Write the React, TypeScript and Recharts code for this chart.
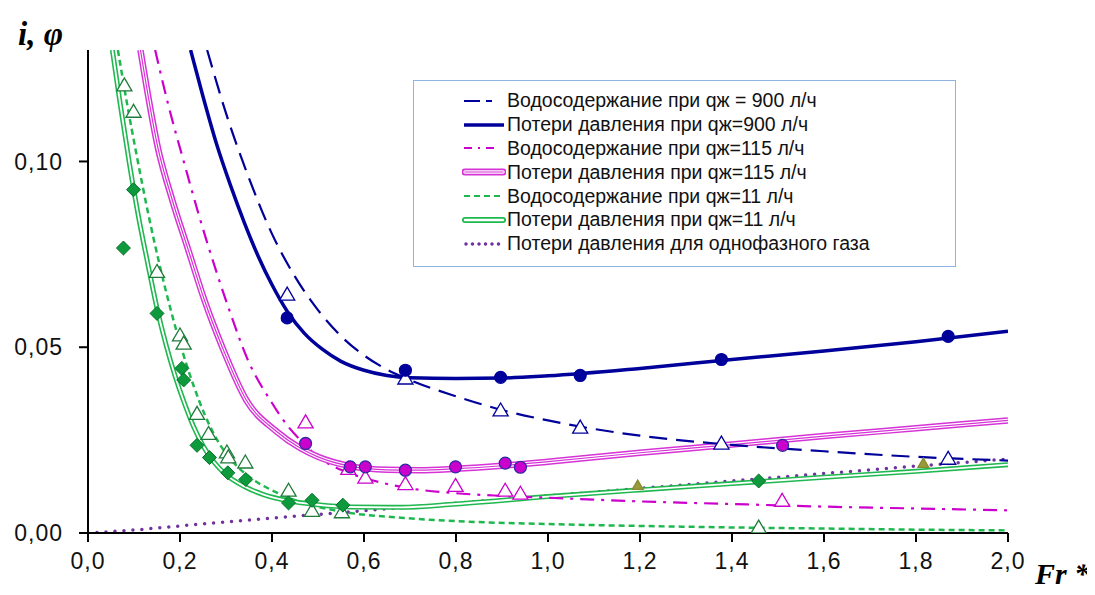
import React from 'react';
import { ComposedChart, Line, Scatter, XAxis, YAxis } from 'recharts';

type Pt = { x: number; y: number };

// curves
const waterCut900: Pt[] = [
  { x: 0.259, y: 0.13 }, { x: 0.3, y: 0.113 }, { x: 0.35, y: 0.0955 }, { x: 0.4, y: 0.0805 },
  { x: 0.45, y: 0.069 }, { x: 0.5, y: 0.06 }, { x: 0.55, y: 0.053 }, { x: 0.6, y: 0.0478 },
  { x: 0.65, y: 0.044 }, { x: 0.69, y: 0.0417 }, { x: 0.8, y: 0.0368 }, { x: 0.9, y: 0.0331 },
  { x: 1.0, y: 0.0303 }, { x: 1.1, y: 0.028 }, { x: 1.2, y: 0.0262 }, { x: 1.4, y: 0.0237 },
  { x: 1.6, y: 0.022 }, { x: 1.8, y: 0.0205 }, { x: 2.0, y: 0.0195 },
];

const loss900: Pt[] = [
  { x: 0.223, y: 0.13 }, { x: 0.25, y: 0.1175 }, { x: 0.28, y: 0.1045 }, { x: 0.31, y: 0.0935 },
  { x: 0.34, y: 0.0835 }, { x: 0.37, y: 0.0745 }, { x: 0.4, y: 0.0668 }, { x: 0.434, y: 0.0595 },
  { x: 0.47, y: 0.0538 }, { x: 0.51, y: 0.0494 }, { x: 0.55, y: 0.0462 }, { x: 0.6, y: 0.0438 },
  { x: 0.65, y: 0.0424 }, { x: 0.7, y: 0.0418 }, { x: 0.8, y: 0.0416 }, { x: 0.9, y: 0.0417 },
  { x: 1.0, y: 0.0423 }, { x: 1.2, y: 0.0443 }, { x: 1.4, y: 0.0467 }, { x: 1.6, y: 0.049 },
  { x: 1.8, y: 0.0515 }, { x: 2.0, y: 0.0543 },
];

const waterCut115: Pt[] = [
  { x: 0.146, y: 0.13 }, { x: 0.175, y: 0.115 }, { x: 0.207, y: 0.1005 }, { x: 0.24, y: 0.086 },
  { x: 0.28, y: 0.07 }, { x: 0.31, y: 0.059 }, { x: 0.346, y: 0.047 }, { x: 0.4, y: 0.035 },
  { x: 0.433, y: 0.029 }, { x: 0.47, y: 0.024 }, { x: 0.5, y: 0.0205 }, { x: 0.55, y: 0.017 },
  { x: 0.6, y: 0.0148 }, { x: 0.65, y: 0.0132 }, { x: 0.7, y: 0.012 }, { x: 0.8, y: 0.0107 },
  { x: 0.9, y: 0.01 }, { x: 1.0, y: 0.0095 }, { x: 1.2, y: 0.0085 }, { x: 1.4, y: 0.0078 },
  { x: 1.6, y: 0.0071 }, { x: 1.8, y: 0.0066 }, { x: 2.0, y: 0.0061 },
];

const loss115: Pt[] = [
  { x: 0.114, y: 0.13 }, { x: 0.153, y: 0.1031 }, { x: 0.183, y: 0.0897 }, { x: 0.218, y: 0.0762 },
  { x: 0.253, y: 0.0627 }, { x: 0.292, y: 0.05 }, { x: 0.344, y: 0.0358 }, { x: 0.408, y: 0.0275 },
  { x: 0.462, y: 0.0228 }, { x: 0.5, y: 0.0205 }, { x: 0.57, y: 0.018 }, { x: 0.65, y: 0.017 },
  { x: 0.72, y: 0.0169 }, { x: 0.8, y: 0.0173 }, { x: 0.9, y: 0.0181 }, { x: 1.0, y: 0.0192 },
  { x: 1.2, y: 0.0216 }, { x: 1.4, y: 0.0238 }, { x: 1.6, y: 0.0261 }, { x: 1.8, y: 0.0282 },
  { x: 2.0, y: 0.0303 },
];

const waterCut11: Pt[] = [
  { x: 0.065, y: 0.13 }, { x: 0.085, y: 0.1155 }, { x: 0.106, y: 0.1015 }, { x: 0.13, y: 0.0865 },
  { x: 0.155, y: 0.0725 }, { x: 0.18, y: 0.06 }, { x: 0.205, y: 0.049 }, { x: 0.23, y: 0.0395 },
  { x: 0.255, y: 0.0315 }, { x: 0.28, y: 0.0252 }, { x: 0.32, y: 0.0185 }, { x: 0.36, y: 0.0143 },
  { x: 0.4, y: 0.0115 }, { x: 0.46, y: 0.0084 }, { x: 0.52, y: 0.0065 }, { x: 0.57, y: 0.0054 },
  { x: 0.68, y: 0.0041 }, { x: 0.8, y: 0.0032 }, { x: 1.0, y: 0.0024 }, { x: 1.2, y: 0.0019 },
  { x: 1.4, y: 0.0015 }, { x: 1.6, y: 0.0012 }, { x: 1.8, y: 0.0009 }, { x: 2.0, y: 0.0007 },
];

const loss11: Pt[] = [
  { x: 0.053, y: 0.13 }, { x: 0.07, y: 0.1155 }, { x: 0.09, y: 0.0995 }, { x: 0.11, y: 0.085 },
  { x: 0.13, y: 0.0725 }, { x: 0.15, y: 0.0605 }, { x: 0.17, y: 0.0505 }, { x: 0.19, y: 0.042 },
  { x: 0.21, y: 0.0348 }, { x: 0.23, y: 0.0285 }, { x: 0.25, y: 0.0235 }, { x: 0.275, y: 0.0189 },
  { x: 0.3, y: 0.0157 }, { x: 0.34, y: 0.0125 }, { x: 0.38, y: 0.0104 }, { x: 0.43, y: 0.0088 },
  { x: 0.5, y: 0.0076 }, { x: 0.57, y: 0.007 }, { x: 0.68, y: 0.0069 }, { x: 0.8, y: 0.0078 },
  { x: 1.0, y: 0.0098 }, { x: 1.2, y: 0.0116 }, { x: 1.4, y: 0.0133 }, { x: 1.6, y: 0.015 },
  { x: 1.8, y: 0.0166 }, { x: 2.0, y: 0.0184 },
];

const lossGas: Pt[] = [
  { x: 0, y: 0 }, { x: 0.1, y: 0.0008 }, { x: 0.2, y: 0.0019 }, { x: 0.3, y: 0.003 },
  { x: 0.4, y: 0.004 }, { x: 0.5, y: 0.005 }, { x: 0.6, y: 0.006 }, { x: 0.7, y: 0.007 },
  { x: 0.8, y: 0.008 }, { x: 0.9, y: 0.009 }, { x: 1.0, y: 0.01 }, { x: 1.2, y: 0.012 },
  { x: 1.4, y: 0.014 }, { x: 1.6, y: 0.016 }, { x: 1.8, y: 0.018 }, { x: 2.0, y: 0.0199 },
];

// measured points
const dots900: Pt[] = [
  { x: 0.433, y: 0.0579 }, { x: 0.69, y: 0.0438 }, { x: 0.897, y: 0.0419 },
  { x: 1.07, y: 0.0424 }, { x: 1.377, y: 0.0467 }, { x: 1.87, y: 0.0529 },
];
const tri900: Pt[] = [
  { x: 0.433, y: 0.0643 }, { x: 0.69, y: 0.0417 }, { x: 0.897, y: 0.0331 },
  { x: 1.07, y: 0.0285 }, { x: 1.377, y: 0.0242 }, { x: 1.87, y: 0.0201 },
];
const dots115: Pt[] = [
  { x: 0.473, y: 0.0241 }, { x: 0.57, y: 0.0178 }, { x: 0.603, y: 0.0178 }, { x: 0.69, y: 0.0169 },
  { x: 0.799, y: 0.0178 }, { x: 0.907, y: 0.0188 }, { x: 0.94, y: 0.0177 }, { x: 1.51, y: 0.0236 },
];
const tri115: Pt[] = [
  { x: 0.473, y: 0.0299 }, { x: 0.566, y: 0.0174 }, { x: 0.603, y: 0.015 }, { x: 0.69, y: 0.0133 },
  { x: 0.799, y: 0.0128 }, { x: 0.907, y: 0.0115 }, { x: 0.94, y: 0.0107 }, { x: 1.509, y: 0.0088 },
];
const tri11: Pt[] = [
  { x: 0.079, y: 0.1206 }, { x: 0.099, y: 0.1135 }, { x: 0.15, y: 0.0704 }, { x: 0.2, y: 0.0533 },
  { x: 0.208, y: 0.0511 }, { x: 0.237, y: 0.0322 }, { x: 0.262, y: 0.0268 }, { x: 0.302, y: 0.0218 },
  { x: 0.305, y: 0.0205 }, { x: 0.342, y: 0.0191 }, { x: 0.436, y: 0.0115 }, { x: 0.487, y: 0.0061 },
  { x: 0.552, y: 0.0057 }, { x: 1.458, y: 0.0016 },
];
const diam11: Pt[] = [
  { x: 0.077, y: 0.0767 }, { x: 0.099, y: 0.0924 }, { x: 0.15, y: 0.0591 }, { x: 0.204, y: 0.0443 },
  { x: 0.208, y: 0.0412 }, { x: 0.237, y: 0.0236 }, { x: 0.264, y: 0.0203 }, { x: 0.304, y: 0.0162 },
  { x: 0.343, y: 0.0144 }, { x: 0.436, y: 0.0081 }, { x: 0.487, y: 0.0088 }, { x: 0.554, y: 0.0075 },
  { x: 1.458, y: 0.014 },
];
const triOlive: Pt[] = [{ x: 1.195, y: 0.0129 }, { x: 1.816, y: 0.0188 }];

const xTicks = [0, 0.2, 0.4, 0.6, 0.8, 1.0, 1.2, 1.4, 1.6, 1.8, 2.0];
const yTicks = [0, 0.05, 0.1];

const legendItems = [
  { label: 'Водосодержание при qж = 900 л/ч', kind: 'dash900' },
  { label: 'Потери давления при qж=900 л/ч', kind: 'solid900' },
  { label: 'Водосодержание при qж=115 л/ч', kind: 'dashdot115' },
  { label: 'Потери давления при qж=115 л/ч', kind: 'double115' },
  { label: 'Водосодержание при qж=11 л/ч', kind: 'dash11' },
  { label: 'Потери давления при qж=11 л/ч', kind: 'double11' },
  { label: 'Потери давления для однофазного газа', kind: 'dotGas' },
];

const NAVY = '#00009a';
const MAGENTA = '#cc00cc';
const PINK = '#d633d6';
const GREEN = '#1fb84f';
const PURPLE = '#7030a0';

const comma = (v: number, d: number) => v.toFixed(d).replace('.', ',');

const dot = (fill: string, stroke: string) => (p: any) => (
  <circle cx={p.cx} cy={p.cy} r={6} fill={fill} stroke={stroke} strokeWidth={1.2} />
);
const tri = (stroke: string, fill = '#fff', s = 7) => (p: any) => (
  <path
    d={`M${p.cx},${p.cy - s} L${p.cx + s * 1.08},${p.cy + s * 0.85} L${p.cx - s * 1.08},${p.cy + s * 0.85} Z`}
    fill={fill}
    stroke={stroke}
    strokeWidth={1.3}
  />
);
const diamond = (p: any) => (
  <path
    d={`M${p.cx},${p.cy - 7} L${p.cx + 7},${p.cy} L${p.cx},${p.cy + 7} L${p.cx - 7},${p.cy} Z`}
    fill="#0d9a3c"
    stroke="#07702a"
    strokeWidth={1}
  />
);

const Sample = ({ kind }: { kind: string }) => {
  const y = 10;
  let body: React.ReactNode = null;
  if (kind === 'dash900') body = <line x1={2} y1={y} x2={42} y2={y} stroke={NAVY} strokeWidth={2} strokeDasharray="16 6 6 30" />;
  if (kind === 'solid900') body = <line x1={2} y1={y} x2={42} y2={y} stroke={NAVY} strokeWidth={3.5} />;
  if (kind === 'dashdot115') body = <line x1={2} y1={y} x2={42} y2={y} stroke={MAGENTA} strokeWidth={2} strokeDasharray="8 6 2 6 8 20" />;
  if (kind === 'double115')
    body = (
      <>
        <line x1={3} y1={y} x2={41} y2={y} stroke={PINK} strokeWidth={7} strokeLinecap="round" />
        <line x1={3} y1={y} x2={41} y2={y} stroke="#fff" strokeWidth={3.5} strokeLinecap="round" />
        <line x1={3} y1={y} x2={41} y2={y} stroke={PINK} strokeWidth={1.2} strokeLinecap="round" />
      </>
    );
  if (kind === 'dash11') body = <line x1={2} y1={y} x2={42} y2={y} stroke={GREEN} strokeWidth={2} strokeDasharray="6 4" />;
  if (kind === 'double11')
    body = (
      <>
        <line x1={3} y1={y} x2={41} y2={y} stroke={GREEN} strokeWidth={6} strokeLinecap="round" />
        <line x1={3} y1={y} x2={41} y2={y} stroke="#fff" strokeWidth={2.5} strokeLinecap="round" />
      </>
    );
  if (kind === 'dotGas') body = <line x1={4} y1={y} x2={42} y2={y} stroke={PURPLE} strokeWidth={3.5} strokeDasharray="0 6.5" strokeLinecap="round" />;
  return (
    <svg width={44} height={20} style={{ display: 'block' }}>
      {body}
    </svg>
  );
};

const LegendBox = () => (
  <div
    style={{
      position: 'absolute',
      left: 405,
      top: 72,
      width: 543,
      height: 187,
      border: '1px solid #8fb4e0',
      background: '#fff',
      fontFamily: '"Liberation Sans", Arial, sans-serif',
      fontSize: 19.5,
      color: '#111',
      paddingTop: 8,
      boxSizing: 'border-box',
    }}
  >
    {legendItems.map((it) => (
      <div key={it.label} style={{ display: 'flex', alignItems: 'center', height: 23.8, paddingLeft: 48 }}>
        <Sample kind={it.kind} />
        <span style={{ marginLeft: 1, whiteSpace: 'nowrap' }}>{it.label}</span>
      </div>
    ))}
  </div>
);

const tickStyle = { fontSize: 23, fill: '#111', fontFamily: '"Liberation Sans", Arial, sans-serif', letterSpacing: 1 };

export default function App() {
  return (
    <div style={{ position: 'relative', width: 1080, height: 580 }}>
      <ComposedChart width={1080} height={580} margin={{ top: 42, right: 80, bottom: 15, left: 5 }}>
        <XAxis
          dataKey="x"
          type="number"
          domain={[0, 2]}
          ticks={xTicks}
          tickFormatter={(v: number) => comma(v, 1)}
          axisLine={{ stroke: '#000', strokeWidth: 2 }}
          tickLine={{ stroke: '#000', strokeWidth: 2 }}
          tickSize={9}
          tickMargin={11}
          tick={tickStyle}
          height={40}
          allowDataOverflow
        />
        <YAxis
          type="number"
          domain={[0, 0.13]}
          ticks={yTicks}
          tickFormatter={(v: number) => comma(v, 2)}
          axisLine={{ stroke: '#000', strokeWidth: 2 }}
          tickLine={{ stroke: '#000', strokeWidth: 2 }}
          tickSize={9}
          tickMargin={16}
          tick={tickStyle}
          width={75}
          allowDataOverflow
        />

        <Line data={lossGas} dataKey="y" type="monotone" stroke={PURPLE} strokeWidth={3.5} strokeDasharray="0 9" strokeLinecap="round" dot={false} isAnimationActive={false} />

        <Line data={waterCut11} dataKey="y" type="monotone" stroke={GREEN} strokeWidth={2.5} strokeDasharray="6 4" dot={false} isAnimationActive={false} />
        <Line data={loss11} dataKey="y" type="monotone" stroke={GREEN} strokeWidth={5} dot={false} isAnimationActive={false} />
        <Line data={loss11} dataKey="y" type="monotone" stroke="#fff" strokeWidth={1.8} dot={false} isAnimationActive={false} />

        <Line data={waterCut115} dataKey="y" type="monotone" stroke={MAGENTA} strokeWidth={2.2} strokeDasharray="14 7 3 7" dot={false} isAnimationActive={false} />
        <Line data={loss115} dataKey="y" type="monotone" stroke={PINK} strokeWidth={6.5} dot={false} isAnimationActive={false} />
        <Line data={loss115} dataKey="y" type="monotone" stroke="#fff" strokeWidth={3.5} dot={false} isAnimationActive={false} />
        <Line data={loss115} dataKey="y" type="monotone" stroke={PINK} strokeWidth={1.2} dot={false} isAnimationActive={false} />

        <Line data={waterCut900} dataKey="y" type="monotone" stroke={NAVY} strokeWidth={2.2} strokeDasharray="18 9" dot={false} isAnimationActive={false} />
        <Line data={loss900} dataKey="y" type="monotone" stroke={NAVY} strokeWidth={3.5} dot={false} isAnimationActive={false} />

        <Scatter data={triOlive} dataKey="y" shape={tri('#8a8a2e', '#9a9a3a', 5)} isAnimationActive={false} />
        <Scatter data={tri11} dataKey="y" shape={tri('#1e7b3a')} isAnimationActive={false} />
        <Scatter data={diam11} dataKey="y" shape={diamond} isAnimationActive={false} />
        <Scatter data={tri115} dataKey="y" shape={tri(MAGENTA)} isAnimationActive={false} />
        <Scatter data={dots115} dataKey="y" shape={dot(MAGENTA, '#2a2aa0')} isAnimationActive={false} />
        <Scatter data={tri900} dataKey="y" shape={tri(NAVY)} isAnimationActive={false} />
        <Scatter data={dots900} dataKey="y" shape={dot(NAVY, NAVY)} isAnimationActive={false} />
      </ComposedChart>

      <LegendBox />

      <div
        style={{
          position: 'absolute',
          left: 10,
          top: 8,
          fontFamily: '"Liberation Serif", "DejaVu Serif", serif',
          fontWeight: 'bold',
          fontStyle: 'italic',
          fontSize: 33,
          lineHeight: '36px',
          color: '#000',
          whiteSpace: 'nowrap',
        }}
      >
        i, φ
      </div>
      <div
        style={{
          position: 'absolute',
          left: 1027,
          top: 551,
          fontFamily: '"Liberation Serif", "DejaVu Serif", serif',
          fontWeight: 'bold',
          fontStyle: 'italic',
          fontSize: 30,
          lineHeight: '30px',
          color: '#000',
          whiteSpace: 'nowrap',
        }}
      >
        Fr *
      </div>
    </div>
  );
}
